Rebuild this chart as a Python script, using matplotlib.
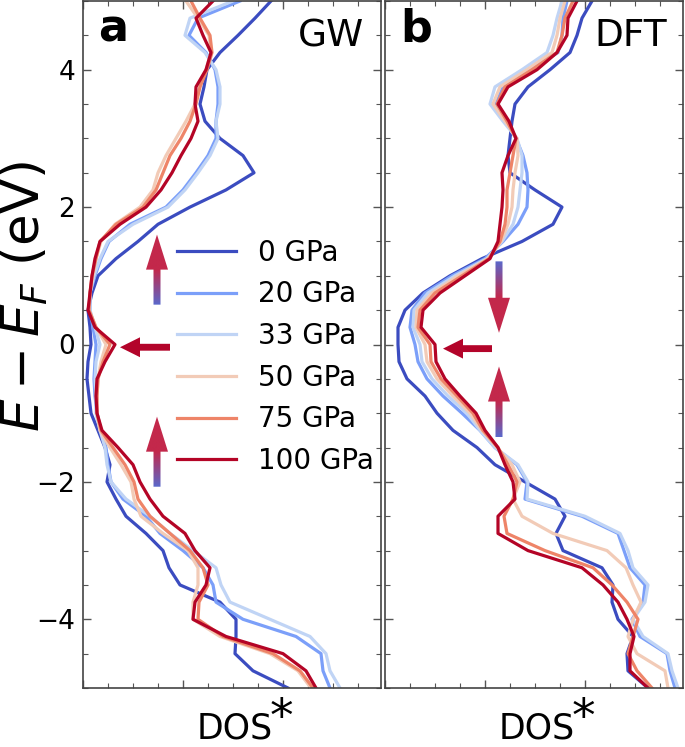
import numpy as np
import matplotlib
matplotlib.use("Agg")
import matplotlib.pyplot as plt
from matplotlib.patches import FancyArrow
from matplotlib.colors import LinearSegmentedColormap
from matplotlib.ticker import MultipleLocator

# energy grid (eV), common to every curve
energy = [5.0, 4.75, 4.5, 4.25, 4.0, 3.75, 3.5, 3.25, 3.0, 2.75, 2.5, 2.25, 2.0,
          1.75, 1.5, 1.25, 1.0, 0.75, 0.5, 0.25, 0.0, -0.25, -0.5, -0.75, -1.0,
          -1.25, -1.5, -1.75, -2.0, -2.25, -2.5, -2.75, -3.0, -3.25, -3.5, -3.75,
          -4.0, -4.25, -4.5, -4.75, -5.0]

pressures = ["0 GPa", "20 GPa", "33 GPa", "50 GPa", "75 GPa", "100 GPa"]

# panel a : GW density of states (arb. units)
gw_0 = [1.88, 1.72, 1.55, 1.37, 1.24, 1.21, 1.17, 1.22, 1.37, 1.6, 1.71, 1.43, 1.07,
        0.75, 0.55, 0.33, 0.15, 0.09, 0.05, 0.07, 0.08, 0.05, 0.04, 0.06, 0.08,
        0.15, 0.22, 0.27, 0.24, 0.33, 0.43, 0.63, 0.8, 0.86, 0.97, 1.37,
        1.53, 1.53, 1.52, 1.7, 2.05]
gw_20 = [1.57, 1.15, 1.06, 1.23, 1.32, 1.35, 1.35, 1.33, 1.33, 1.25, 1.13, 1.0, 0.83,
         0.47, 0.26, 0.18, 0.12, 0.07, 0.07, 0.1, 0.13, 0.12, 0.11, 0.12, 0.14,
         0.18, 0.23, 0.25, 0.28, 0.4, 0.63, 0.77, 1.0, 1.2, 1.3, 1.33,
         1.6, 2.13, 2.38, 2.4, 2.47]
gw_33 = [1.5, 1.07, 1.02, 1.22, 1.33, 1.37, 1.37, 1.33, 1.35, 1.27, 1.15, 1.02, 0.85,
         0.5, 0.25, 0.17, 0.11, 0.07, 0.07, 0.12, 0.17, 0.13, 0.12, 0.13, 0.13,
         0.17, 0.22, 0.24, 0.28, 0.43, 0.67, 0.87, 1.1, 1.33, 1.38, 1.47,
         1.87, 2.27, 2.43, 2.47, 2.57]
gw_50 = [1.03, 1.15, 1.26, 1.28, 1.23, 1.17, 1.12, 1.03, 0.93, 0.83, 0.75, 0.7, 0.57,
         0.32, 0.18, 0.13, 0.1, 0.07, 0.06, 0.13, 0.23, 0.18, 0.15, 0.14, 0.14,
         0.17, 0.27, 0.38, 0.48, 0.51, 0.58, 0.8, 1.05, 1.15, 1.15, 1.1,
         1.1, 1.37, 1.87, 2.15, 2.28]
gw_75 = [1.08, 1.17, 1.27, 1.29, 1.24, 1.17, 1.13, 1.07, 0.98, 0.87, 0.8, 0.73, 0.6,
         0.33, 0.17, 0.13, 0.09, 0.07, 0.06, 0.13, 0.27, 0.2, 0.15, 0.14, 0.14,
         0.18, 0.3, 0.42, 0.51, 0.55, 0.67, 0.87, 1.07, 1.2, 1.25, 1.16,
         1.15, 1.4, 1.9, 2.17, 2.3]
gw_100 = [1.3, 1.13, 1.2, 1.28, 1.23, 1.13, 1.12, 1.15, 1.08, 0.98, 0.89, 0.78, 0.63,
          0.37, 0.17, 0.12, 0.09, 0.07, 0.05, 0.12, 0.32, 0.22, 0.14, 0.13, 0.14,
          0.19, 0.35, 0.5, 0.57, 0.67, 0.8, 1.02, 1.12, 1.27, 1.23, 1.12,
          1.1, 1.43, 2.0, 2.23, 2.33]

# panel b : DFT density of states (arb. units)
dft_0 = [2.07, 1.97, 1.92, 1.85, 1.65, 1.43, 1.3, 1.27, 1.25, 1.23, 1.25, 1.5, 1.77,
         1.68, 1.37, 0.97, 0.65, 0.38, 0.2, 0.13, 0.13, 0.14, 0.22, 0.4, 0.52,
         0.68, 0.92, 1.1, 1.4, 1.7, 1.8, 1.71, 1.78, 2.17, 2.28, 2.27,
         2.33, 2.48, 2.42, 2.43, 2.63]
dft_20 = [1.82, 1.78, 1.77, 1.73, 1.45, 1.18, 1.11, 1.21, 1.31, 1.38, 1.42, 1.43, 1.42,
          1.33, 1.18, 1.0, 0.67, 0.4, 0.27, 0.25, 0.3, 0.33, 0.42, 0.58, 0.77,
          0.95, 1.1, 1.32, 1.42, 1.4, 1.97, 2.33, 2.39, 2.45, 2.6, 2.58,
          2.47, 2.55, 2.82, 2.85, 2.9]
dft_33 = [1.77, 1.72, 1.68, 1.62, 1.37, 1.1, 1.05, 1.18, 1.32, 1.37, 1.37, 1.35, 1.33,
          1.28, 1.17, 1.02, 0.7, 0.43, 0.29, 0.28, 0.35, 0.37, 0.47, 0.63, 0.82,
          0.95, 1.1, 1.33, 1.43, 1.42, 2.0, 2.35, 2.43, 2.48, 2.63, 2.6,
          2.48, 2.58, 2.83, 2.87, 2.93]
dft_50 = [1.8, 1.75, 1.72, 1.67, 1.42, 1.15, 1.08, 1.2, 1.32, 1.33, 1.3, 1.28, 1.27,
          1.23, 1.16, 1.03, 0.73, 0.47, 0.32, 0.31, 0.4, 0.42, 0.52, 0.68, 0.85,
          0.97, 1.12, 1.27, 1.35, 1.28, 1.37, 1.68, 2.22, 2.41, 2.48, 2.56,
          2.48, 2.43, 2.52, 2.8, 2.83]
dft_75 = [1.88, 1.8, 1.77, 1.72, 1.47, 1.2, 1.12, 1.22, 1.31, 1.28, 1.25, 1.22, 1.22,
          1.2, 1.15, 1.04, 0.77, 0.5, 0.35, 0.33, 0.45, 0.46, 0.56, 0.72, 0.88,
          0.98, 1.13, 1.23, 1.32, 1.28, 1.19, 1.22, 1.6, 2.08, 2.27, 2.42,
          2.53, 2.48, 2.43, 2.52, 2.67]
dft_100 = [1.92, 1.83, 1.82, 1.72, 1.52, 1.23, 1.13, 1.24, 1.31, 1.23, 1.17, 1.18, 1.17,
           1.15, 1.13, 1.05, 0.8, 0.55, 0.38, 0.36, 0.5, 0.51, 0.6, 0.75, 0.91,
           1.0, 1.13, 1.2, 1.28, 1.3, 1.13, 1.13, 1.43, 1.97, 2.18, 2.33,
           2.42, 2.49, 2.45, 2.45, 2.63]

gw_curves = [gw_0, gw_20, gw_33, gw_50, gw_75, gw_100]
dft_curves = [dft_0, dft_20, dft_33, dft_50, dft_75, dft_100]

colors = plt.cm.coolwarm(np.linspace(0, 1, 6))
grad_cmap = LinearSegmentedColormap.from_list("arr", ["#5a69cc", "#c3284b"])

fig = plt.figure(figsize=(6.85, 7.47), dpi=100)
ax1 = fig.add_axes([83 / 685, 59 / 747, 298 / 685, 687 / 747])
ax2 = fig.add_axes([385 / 685, 59 / 747, 298 / 685, 687 / 747])


def grad_arrow(ax, x, y0, y1, hl=0.51):
    # vertical arrow, blue tail -> red head
    arr = FancyArrow(x, y0, 0, y1 - y0, width=0.07, head_width=0.22,
                     head_length=hl, length_includes_head=True,
                     fc="none", ec="none", zorder=5)
    ax.add_patch(arr)
    hb = y1 - np.sign(y1 - y0) * hl
    yy = np.linspace(min(y0, y1), max(y0, y1), 300)
    t = np.clip((yy - y0) / (hb - y0), 0, 1)
    img = ax.imshow(t[:, None], cmap=grad_cmap, vmin=0, vmax=1, origin="lower",
                    extent=[x - 0.12, x + 0.12, min(y0, y1), max(y0, y1)],
                    aspect="auto", zorder=5, interpolation="bilinear")
    img.set_clip_path(arr)


def flat_arrow(ax, x0, x1, y):
    ax.add_patch(FancyArrow(x0, y, x1 - x0, 0, width=0.1, head_width=0.29,
                            head_length=0.2, length_includes_head=True,
                            fc="#b3042a", ec="none", zorder=5))


for ax, curves, title in [(ax1, gw_curves, "GW"), (ax2, dft_curves, "DFT")]:
    for c, dos, lab in zip(colors, curves, pressures):
        ax.plot(dos, energy, color=c, lw=2.3, label=lab, solid_joinstyle="round")
    ax.text(0.945, 0.975, title, transform=ax.transAxes, ha="right", va="top",
            fontsize=27)
    ax.xaxis.set_major_locator(MultipleLocator(1))
    ax.xaxis.set_minor_locator(MultipleLocator(0.25))
    ax.yaxis.set_major_locator(MultipleLocator(2))
    ax.yaxis.set_minor_locator(MultipleLocator(0.5))
    ax.tick_params(which="both", direction="in", top=True, right=True,
                   labelbottom=False, color="#555555", labelsize=19, pad=5.5)
    ax.tick_params(which="major", length=6, width=1)
    ax.tick_params(which="minor", length=3.5, width=0.8)
    for s in ax.spines.values():
        s.set_color("#444444")
        s.set_linewidth(1.2)
    # x label: DOS with a full-size asterisk
    ax.set_xlabel("DOS", fontsize=25)
    ax.xaxis.set_label_coords(0.51, -0.034)
    ax.text(0.667, -0.012, "*", transform=ax.transAxes, ha="center", va="top",
            fontsize=34)

ax1.text(0.05, 0.99, "a", transform=ax1.transAxes, ha="left", va="top",
         fontsize=32, fontweight="bold")
ax2.text(0.05, 0.99, "b", transform=ax2.transAxes, ha="left", va="top",
         fontsize=32, fontweight="bold")

# arrows (a)
grad_arrow(ax1, 0.74, 0.58, 1.6)
grad_arrow(ax1, 0.74, -2.07, -1.05)
flat_arrow(ax1, 0.87, 0.37, -0.04)
# arrows (b)
grad_arrow(ax2, 1.14, 1.21, 0.17)
grad_arrow(ax2, 1.14, -1.35, -0.32)
flat_arrow(ax2, 1.07, 0.58, -0.06)

for ax in (ax1, ax2):
    ax.set_xlim(0, 2.98)
    ax.set_ylim(-5, 5)

ax2.tick_params(labelleft=False)
ax1.set_ylabel(r"$E-E_F$ (eV)", fontsize=37)
ax1.yaxis.set_label_coords(-0.11, 0.57)

ax1.legend(loc="center left", bbox_to_anchor=(0.232, 0.482), frameon=False,
           fontsize=20, handlelength=2.12, handletextpad=0.8, labelspacing=0.49,
           borderaxespad=0.5)

fig.savefig("out.png", dpi=100)
